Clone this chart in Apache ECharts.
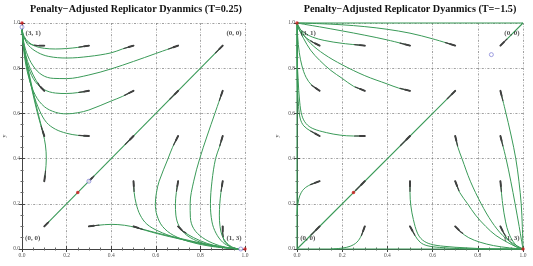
<!DOCTYPE html>
<html>
<head>
<meta charset="UTF-8">
<script src="https://cdn.jsdelivr.net/npm/echarts@6/dist/echarts.min.js"></script>
</head>
<body style="margin:0;background:#fff">
<div id="chart" style="width:533px;height:266px"></div>
<script>
// panel titles and tick labels
var titles = ["Penalty\u2212Adjusted Replicator Dyanmics (T=0.25)", "Penalty\u2212Adjusted Replicator Dyanmics (T=\u22121.5)"];
var tickValues = [0, 0.2, 0.4, 0.6, 0.8, 1.0];

// left panel (T=0.25): trajectories from each seed
var leftUpper = [
  [[0.1,0.9],[0.07,0.9],[0.04,0.905],[0.02,0.92],[0.005,0.945],[0,0.97]],
  [[0.3,0.9],[0.25,0.892],[0.2,0.887],[0.15,0.885],[0.1,0.888],[0.06,0.897],[0.03,0.915],[0.01,0.94],[0,0.97]],
  [[0.5,0.9],[0.45,0.885],[0.4,0.868],[0.3,0.852],[0.2,0.845],[0.12,0.852],[0.07,0.87],[0.03,0.9],[0.01,0.935],[0,0.97]],
  [[0.7,0.9],[0.6,0.865],[0.5,0.83],[0.4,0.797],[0.3,0.77],[0.2,0.754],[0.14,0.755],[0.09,0.77],[0.05,0.81],[0.02,0.87],[0.005,0.93],[0,0.97]],
  [[0.1,0.7],[0.08,0.72],[0.05,0.77],[0.025,0.83],[0.01,0.89],[0,0.97]],
  [[0.3,0.7],[0.25,0.692],[0.2,0.688],[0.15,0.69],[0.1,0.705],[0.06,0.74],[0.03,0.8],[0.01,0.88],[0,0.97]],
  [[0.5,0.7],[0.45,0.675],[0.4,0.655],[0.3,0.615],[0.25,0.603],[0.2,0.598],[0.15,0.605],[0.1,0.63],[0.06,0.68],[0.03,0.76],[0.01,0.86],[0,0.97]],
  [[0.3,0.5],[0.25,0.503],[0.2,0.512],[0.15,0.53],[0.11,0.56],[0.08,0.61],[0.05,0.69],[0.025,0.79],[0.008,0.89],[0,0.97]],
  [[0.1,0.5],[0.09,0.53],[0.075,0.58],[0.055,0.66],[0.035,0.75],[0.018,0.84],[0.005,0.92],[0,0.97]],
  [[0.1,0.3],[0.105,0.34],[0.109,0.4],[0.105,0.46],[0.095,0.51],[0.08,0.57],[0.06,0.65],[0.04,0.74],[0.02,0.83],[0.007,0.91],[0,0.97]]
];
var leftLower = [
  [[0.9,0.1],[0.9,0.07],[0.905,0.04],[0.92,0.02],[0.945,0.005],[0.97,0]],
  [[0.9,0.3],[0.892,0.25],[0.887,0.2],[0.885,0.15],[0.888,0.1],[0.897,0.06],[0.915,0.03],[0.94,0.01],[0.97,0]],
  [[0.9,0.5],[0.885,0.45],[0.868,0.4],[0.852,0.3],[0.845,0.2],[0.852,0.12],[0.87,0.07],[0.9,0.03],[0.935,0.01],[0.97,0]],
  [[0.9,0.7],[0.865,0.6],[0.83,0.5],[0.797,0.4],[0.77,0.3],[0.754,0.2],[0.755,0.14],[0.77,0.09],[0.81,0.05],[0.87,0.02],[0.93,0.005],[0.97,0]],
  [[0.7,0.1],[0.72,0.08],[0.77,0.05],[0.83,0.025],[0.89,0.01],[0.97,0]],
  [[0.7,0.3],[0.692,0.25],[0.688,0.2],[0.69,0.15],[0.705,0.1],[0.74,0.06],[0.8,0.03],[0.88,0.01],[0.97,0]],
  [[0.7,0.5],[0.675,0.45],[0.655,0.4],[0.615,0.3],[0.603,0.25],[0.598,0.2],[0.605,0.15],[0.63,0.1],[0.68,0.06],[0.76,0.03],[0.86,0.01],[0.97,0]],
  [[0.5,0.3],[0.503,0.25],[0.512,0.2],[0.53,0.15],[0.56,0.11],[0.61,0.08],[0.69,0.05],[0.79,0.025],[0.89,0.008],[0.97,0]],
  [[0.5,0.1],[0.53,0.09],[0.58,0.075],[0.66,0.055],[0.75,0.035],[0.84,0.018],[0.92,0.005],[0.97,0]],
  [[0.3,0.1],[0.34,0.105],[0.4,0.109],[0.46,0.105],[0.51,0.095],[0.57,0.08],[0.65,0.06],[0.74,0.04],[0.83,0.02],[0.91,0.007],[0.97,0]]
];
var leftDiagonal = [[[0.1,0.1],[0.9,0.9]]];
var leftDiagArrows = [[[0.1,0.1],[0.12,0.12]],[[0.3,0.3],[0.322,0.322]],[[0.5,0.5],[0.463,0.463]],[[0.7,0.7],[0.663,0.663]],[[0.9,0.9],[0.868,0.868]]];
var leftStable = [[0,1],[1,0],[0.25,0.25]];
var leftUnstable = [[0,0.982],[0.981,0],[0.3,0.3]];

// right panel (T=-1.5)
var rightUpper = [
  [[0.1,0.9],[0.07,0.915],[0.04,0.935],[0.02,0.955],[0.007,0.975],[0,1]],
  [[0.3,0.9],[0.2,0.91],[0.12,0.923],[0.07,0.937],[0.035,0.955],[0.012,0.975],[0,1]],
  [[0.5,0.9],[0.4,0.925],[0.3,0.946],[0.2,0.965],[0.1,0.983],[0.04,0.993],[0,1]],
  [[0.7,0.9],[0.6,0.93],[0.5,0.955],[0.4,0.972],[0.3,0.984],[0.2,0.992],[0.1,0.997],[0,1]],
  [[0.1,0.7],[0.065,0.725],[0.04,0.76],[0.022,0.81],[0.01,0.87],[0.003,0.94],[0,1]],
  [[0.3,0.7],[0.25,0.72],[0.2,0.755],[0.15,0.79],[0.1,0.835],[0.06,0.88],[0.03,0.93],[0.01,0.97],[0,1]],
  [[0.5,0.7],[0.45,0.712],[0.4,0.73],[0.3,0.767],[0.2,0.815],[0.12,0.862],[0.06,0.91],[0.025,0.955],[0,1]],
  [[0.1,0.5],[0.06,0.522],[0.03,0.545],[0.015,0.575],[0.007,0.63],[0.002,0.72],[0,0.85],[0,1]],
  [[0.3,0.5],[0.25,0.5],[0.19,0.504],[0.13,0.515],[0.07,0.533],[0.04,0.555],[0.022,0.59],[0.012,0.65],[0.005,0.75],[0,0.88],[0,1]],
  [[0.1,0.3],[0.06,0.285],[0.03,0.265],[0.012,0.235],[0.004,0.2],[0,0.15]]
];
var rightLower = [
  [[0.9,0.1],[0.915,0.07],[0.935,0.04],[0.955,0.02],[0.975,0.007],[1,0]],
  [[0.9,0.3],[0.91,0.2],[0.923,0.12],[0.937,0.07],[0.955,0.035],[0.975,0.012],[1,0]],
  [[0.9,0.5],[0.925,0.4],[0.946,0.3],[0.965,0.2],[0.983,0.1],[0.993,0.04],[1,0]],
  [[0.9,0.7],[0.92,0.62],[0.948,0.5],[0.968,0.4],[0.982,0.3],[0.992,0.2],[0.997,0.1],[1,0]],
  [[0.7,0.1],[0.725,0.075],[0.76,0.05],[0.81,0.03],[0.87,0.015],[0.94,0.005],[1,0]],
  [[0.7,0.3],[0.72,0.25],[0.755,0.2],[0.79,0.15],[0.835,0.1],[0.88,0.06],[0.93,0.03],[0.97,0.01],[1,0]],
  [[0.7,0.5],[0.712,0.45],[0.73,0.4],[0.767,0.3],[0.815,0.2],[0.862,0.12],[0.91,0.06],[0.955,0.025],[1,0]],
  [[0.5,0.1],[0.522,0.06],[0.545,0.03],[0.575,0.015],[0.63,0.007],[0.72,0.002],[0.85,0],[1,0]],
  [[0.5,0.3],[0.5,0.25],[0.504,0.19],[0.515,0.13],[0.533,0.07],[0.555,0.04],[0.59,0.022],[0.65,0.012],[0.75,0.005],[0.88,0],[1,0]],
  [[0.3,0.1],[0.285,0.06],[0.265,0.03],[0.235,0.012],[0.2,0.004],[0.15,0]]
];
var rightDiagonal = [[[0,0],[0.7,0.7]],[[0.928,0.928],[1,1]],[[0,0],[1,0]],[[0,0],[0,1]],[[0,1],[1,1]]];
var rightDiagArrows = [[[0.1,0.1],[0.062,0.062]],[[0.3,0.3],[0.26,0.26]],[[0.5,0.5],[0.458,0.458]],[[0.7,0.7],[0.665,0.665]],[[0.9,0.9],[0.928,0.928]]];
var rightStable = [[0,1],[1,0],[0.25,0.25]];
var rightUnstable = [[0.86,0.86]];

// corner payoff labels
var cornerNames = ["(3, 1)", "(0, 0)", "(0, 0)", "(1, 3)"];
var cornerPos = [[0.05,0.954],[0.951,0.954],[0.048,0.05],[0.951,0.05]];

var green = "#3a9a58";
var arrowColor = "#404040";
var serif = "Liberation Serif, Times New Roman, serif";

// first piece of a trajectory, used as the arrow glyph at the seed
function headPiece(pts, len) {
  var out = [pts[0]], acc = 0;
  for (var i = 1; i < pts.length; i++) {
    var a = pts[i - 1], b = pts[i];
    var d = Math.hypot(b[0] - a[0], b[1] - a[1]);
    if (acc + d >= len) {
      var t = (len - acc) / d;
      out.push([a[0] + (b[0] - a[0]) * t, a[1] + (b[1] - a[1]) * t]);
      return out;
    }
    acc += d;
    out.push(b);
  }
  return out;
}

var grids = [
  { left: 19, top: 23, width: 226, height: 226 },
  { left: 297, top: 23, width: 226, height: 226 }
];
var xAxes = [], yAxes = [], series = [];

grids.forEach(function (g, i) {
  var base = {
    gridIndex: i, type: "value", min: 0, max: 1, interval: 0.2,
    axisLine: { show: true, lineStyle: { color: "#444", width: 1 } },
    axisTick: { inside: true, length: 3, lineStyle: { color: "#444" } },
    minorTick: { show: true, splitNumber: 4, length: 1.5, lineStyle: { color: "#666" } },
  };
  xAxes.push(Object.assign({}, base, {
    position: "bottom",
    axisLabel: { fontSize: 5.5, color: "#555", fontFamily: serif, margin: 4,
      formatter: function (v) { return v.toFixed(1); } },
    splitLine: { show: true, lineStyle: { color: "#777", width: 0.7, type: [2, 1.5, 0.6, 1.5] } }
  }));
  xAxes.push(Object.assign({}, base, {
    position: "top", axisLabel: { show: false }, splitLine: { show: false }
  }));
  yAxes.push(Object.assign({}, base, {
    position: "left",
    name: "y", nameLocation: "middle", nameGap: i === 0 ? 15 : 17,
    nameTextStyle: { fontSize: 6, color: "#444", fontFamily: serif },
    axisLabel: { fontSize: 5.5, color: "#555", fontFamily: serif, margin: 2,
      formatter: function (v) { return v.toFixed(1); } },
    splitLine: { show: true, lineStyle: { color: "#777", width: 0.7, type: [2, 1.5, 0.6, 1.5] } }
  }));
  yAxes.push(Object.assign({}, base, {
    position: "right", axisLabel: { show: false }, splitLine: { show: false }
  }));
});

function addPanel(i, curves, lines, diagArrows, stable, unstable) {
  var xi = i * 2, yi = i * 2;
  lines.forEach(function (c) {
    series.push({
      type: "line", xAxisIndex: xi, yAxisIndex: yi, data: c, smooth: false,
      showSymbol: false, clip: false, silent: true, z: 2, color: green,
      lineStyle: { color: green, width: 1.1 }
    });
  });
  curves.forEach(function (c) {
    series.push({
      type: "line", xAxisIndex: xi, yAxisIndex: yi, data: c, smooth: 0.35,
      showSymbol: false, clip: false, silent: true, z: 2, color: green,
      lineStyle: { color: green, width: 1 }
    });
  });
  // arrow glyphs: a thin full piece plus a thicker half near the seed
  var arrows = curves.map(function (c) { return headPiece(c, 0.045); }).concat(diagArrows);
  arrows.forEach(function (a) {
    series.push({
      type: "line", xAxisIndex: xi, yAxisIndex: yi, data: a, color: arrowColor,
      showSymbol: false, clip: false, silent: true, z: 3,
      lineStyle: { color: arrowColor, width: 1.2, cap: "round" }
    });
  });
  arrows.map(function (a) { return headPiece(a, 0.022); }).forEach(function (a) {
    series.push({
      type: "line", xAxisIndex: xi, yAxisIndex: yi, data: a, color: arrowColor,
      showSymbol: false, clip: false, silent: true, z: 3,
      lineStyle: { color: arrowColor, width: 1.9, cap: "round" }
    });
  });
  series.push({
    type: "scatter", xAxisIndex: xi, yAxisIndex: yi, data: stable, clip: false, z: 5,
    symbolSize: 3.5, itemStyle: { color: "#d0191b" }
  });
  series.push({
    type: "scatter", xAxisIndex: xi, yAxisIndex: yi, data: unstable, clip: false, z: 5,
    symbol: "circle", symbolSize: 4,
    itemStyle: { color: "#fff", borderColor: "#6b6bd0", borderWidth: 0.8 }
  });
  series.push({
    type: "scatter", xAxisIndex: xi, yAxisIndex: yi, clip: false, z: 6, symbolSize: 1,
    itemStyle: { color: "transparent" },
    data: cornerPos.map(function (p, k) { return { name: cornerNames[k], value: p }; }),
    label: { show: true, position: "inside", formatter: "{b}", fontSize: 7, fontWeight: "bold",
      color: "#222", fontFamily: serif }
  });
}

addPanel(0, leftUpper.concat(leftLower), leftDiagonal, leftDiagArrows, leftStable, leftUnstable);
addPanel(1, rightUpper.concat(rightLower), rightDiagonal, rightDiagArrows, rightStable, rightUnstable);

var chart = echarts.init(document.getElementById("chart"));
chart.setOption({
  animation: false,
  title: titles.map(function (t, i) {
    return { text: t, left: i === 0 ? 136 : 410, top: 4, textAlign: "center", padding: 0,
      textStyle: { fontSize: 10.2, fontWeight: "bold", color: "#111", fontFamily: serif } };
  }),
  grid: grids.map(function (g) { return Object.assign({ show: false }, g); }),
  xAxis: [xAxes[0], xAxes[1], xAxes[2], xAxes[3]],
  yAxis: [yAxes[0], yAxes[1], yAxes[2], yAxes[3]],
  series: series
});
</script>
</body>
</html>
